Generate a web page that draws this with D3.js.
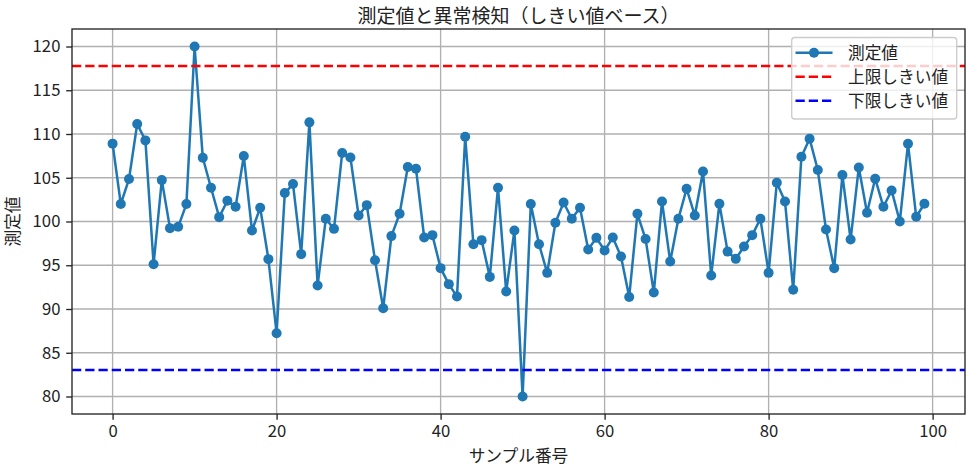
<!DOCTYPE html>
<html><head><meta charset="utf-8">
<script src="https://cdn.jsdelivr.net/npm/d3@7"></script>
<style>
body{margin:0;background:#fff;}
text{font-family:"Noto Sans CJK JP","Noto Sans",sans-serif;fill:#222;}
</style></head>
<body><svg id="c" width="971" height="467"></svg>
<script>
const sampleIndex = d3.range(0, 100);
const measured = [
 108.9,102.0,104.85,111.14,109.27,95.12,104.73,99.24,99.39,101.99,
 120.0,107.29,103.86,100.5,102.37,101.68,107.48,98.97,101.57,95.7,
 87.23,103.25,104.28,96.27,111.33,92.68,100.31,99.16,107.83,107.32,
 100.69,101.87,95.58,90.09,98.33,100.88,106.22,106.03,98.17,98.44,
 94.67,92.84,91.42,109.69,97.41,97.87,93.67,103.86,91.99,98.97,
 80.0,101.99,97.41,94.13,99.85,102.17,100.31,101.57,96.8,98.13,
 96.68,98.17,96.0,91.38,100.88,97.99,91.88,102.29,95.42,100.31,
 103.74,100.69,105.72,93.82,102.03,96.56,95.73,97.14,98.44,100.31,
 94.13,104.43,102.29,92.19,107.4,109.46,105.88,99.08,94.67,105.31,
 97.94,106.18,101.0,104.89,101.68,103.55,100.0,108.89,100.54,102.03
];
const upperThreshold = 117.78;
const lowerThreshold = 83.03;
const xTicks = [0, 20, 40, 60, 80, 100];
const yTicks = [80, 85, 90, 95, 100, 105, 110, 115, 120];
const titleText = "測定値と異常検知（しきい値ベース）";
const xLabelText = "サンプル番号";
const yLabelText = "測定値";
const legendLabels = ["測定値", "上限しきい値", "下限しきい値"];

const L = 72, R = 965, T = 29, B = 414;
const svg = d3.select("#c");
const x = d3.scaleLinear().domain([-4.95, 103.95]).range([L, R]);
const y = d3.scaleLinear().domain([78, 122]).range([B, T]);
const fs = 16.7;

// grid
const g = svg.append("g");
g.selectAll("line.gx").data(xTicks).join("line")
  .attr("x1", d => x(d)).attr("x2", d => x(d)).attr("y1", T).attr("y2", B)
  .attr("stroke", "#b0b0b0").attr("stroke-width", 1.33);
g.selectAll("line.gy").data(yTicks).join("line")
  .attr("y1", d => y(d)).attr("y2", d => y(d)).attr("x1", L).attr("x2", R)
  .attr("stroke", "#b0b0b0").attr("stroke-width", 1.33);

// clip
svg.append("clipPath").attr("id", "clip").append("rect")
  .attr("x", L).attr("y", T).attr("width", R - L).attr("height", B - T);
const plot = svg.append("g").attr("clip-path", "url(#clip)");

const data = sampleIndex.map((i, k) => ({i, v: measured[k]}));
plot.append("path").datum(data)
  .attr("fill", "none").attr("stroke", "#1f77b4").attr("stroke-width", 2.5)
  .attr("stroke-linejoin", "round")
  .attr("d", d3.line().x(d => x(d.i)).y(d => y(d.v)));
plot.selectAll("circle").data(data).join("circle")
  .attr("cx", d => x(d.i)).attr("cy", d => y(d.v)).attr("r", 5)
  .attr("fill", "#1f77b4");

plot.append("line").attr("x1", L).attr("x2", R)
  .attr("y1", y(upperThreshold)).attr("y2", y(upperThreshold))
  .attr("stroke", "red").attr("stroke-width", 2.5).attr("stroke-dasharray", "9.25,4");
plot.append("line").attr("x1", L).attr("x2", R)
  .attr("y1", y(lowerThreshold)).attr("y2", y(lowerThreshold))
  .attr("stroke", "blue").attr("stroke-width", 2.5).attr("stroke-dasharray", "9.25,4");

// axes
const xAxis = d3.axisBottom(x).tickValues(xTicks).tickSize(5.8).tickPadding(5.8).tickFormat(d3.format("d"));
const yAxis = d3.axisLeft(y).tickValues(yTicks).tickSize(5.8).tickPadding(5.8).tickFormat(d3.format("d"));
const gx = svg.append("g").attr("transform", `translate(0,${B})`).call(xAxis);
const gy = svg.append("g").attr("transform", `translate(${L},0)`).call(yAxis);
[gx, gy].forEach(a => {
  a.select(".domain").remove();
  a.selectAll(".tick line").attr("stroke", "#222").attr("stroke-width", 1.33);
  a.selectAll(".tick text").attr("font-size", fs).attr("fill", "#222")
   .style("font-family", '"Noto Sans CJK JP","Noto Sans",sans-serif');
});
svg.append("rect").attr("x", L).attr("y", T).attr("width", R - L).attr("height", B - T)
  .attr("fill", "none").attr("stroke", "#222").attr("stroke-width", 1.33);

// labels
svg.append("text").attr("x", (L + R) / 2).attr("y", 22.5).attr("text-anchor", "middle")
  .attr("font-size", 19).text(titleText);
svg.append("text").attr("x", (L + R) / 2).attr("y", 462).attr("text-anchor", "middle")
  .attr("font-size", fs).text(xLabelText);
svg.append("text").attr("transform", `translate(19,${(T + B) / 2}) rotate(-90)`)
  .attr("text-anchor", "middle").attr("font-size", fs).text(yLabelText);

// legend
const lg = svg.append("g");
lg.append("rect").attr("x", 791.7).attr("y", 37.5).attr("width", 165).attr("height", 81.5)
  .attr("rx", 3).attr("fill", "white").attr("fill-opacity", 0.8)
  .attr("stroke", "#cccccc").attr("stroke-width", 1.33);
const rows = [
  {label: legendLabels[0], color: "#1f77b4", dash: null, marker: true},
  {label: legendLabels[1], color: "red", dash: "9.25,4", marker: false},
  {label: legendLabels[2], color: "blue", dash: "9.25,4", marker: false}
];
const rowY = [52.7, 76.7, 100.7];
rows.forEach((r, k) => {
  const yy = rowY[k];
  const ln = lg.append("line").attr("x1", 795.5).attr("x2", 832.5).attr("y1", yy).attr("y2", yy)
    .attr("stroke", r.color).attr("stroke-width", 2.5);
  if (r.dash) ln.attr("stroke-dasharray", r.dash);
  if (r.marker) lg.append("circle").attr("cx", 814).attr("cy", yy).attr("r", 5).attr("fill", r.color);
  lg.append("text").attr("x", 848).attr("y", yy + 6).attr("font-size", fs).text(r.label);
});
</script></body></html>
